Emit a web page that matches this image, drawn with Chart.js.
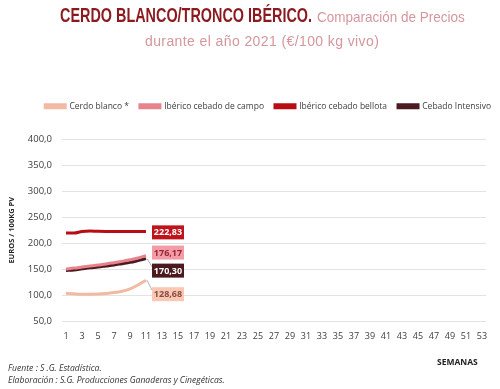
<!DOCTYPE html>
<html>
<head>
<meta charset="utf-8">
<script src="https://cdn.jsdelivr.net/npm/chart.js@4.4.1/dist/chart.umd.min.js"></script>
<style>
  html, body { margin: 0; padding: 0; background: #fff; }
  #wrap { position: relative; width: 500px; height: 389px; overflow: hidden; }
  #myChart { position: absolute; left: 0; top: 0; }
  .tt { position: absolute; white-space: nowrap; font-family: "Liberation Sans", "DejaVu Sans", sans-serif;
    transform-origin: left center; }
  .ta { left: 60px; top: 5px; font-size: 20px; line-height: 20px; font-weight: bold; color: #8b1a1f; transform: scaleX(0.72); }
  .tb { left: 317px; top: 9px; font-size: 15px; line-height: 15px; color: #d4979d; transform: scaleX(0.9); }
  .tc { left: 145px; top: 34px; font-size: 14px; line-height: 14px; color: #d4979d; letter-spacing: 0.4px; }
  .note { position: absolute; font-family: "Open Sans", sans-serif; }
  .foot { left: 8px; font-size: 8.6px; font-style: italic; color: #333; }
</style>
</head>
<body>
<div id="wrap">
  <canvas id="myChart" width="500" height="389"></canvas>
  <div class="tt ta">CERDO BLANCO/TRONCO IBÉRICO.</div>
  <div class="tt tb">Comparación de Precios</div>
  <div class="tt tc">durante el año 2021 (€/100 kg vivo)</div>
  <div class="note" style="left:437px; top:356px; font-size:8.5px; font-weight:bold; color:#222;">SEMANAS</div>
  <div class="note foot" style="top:362px;">Fuente :  S .G. Estadística.</div>
  <div class="note foot" style="top:374px;">Elaboración : S.G. Producciones Ganaderas y Cinegéticas.</div>
</div>
<script>
const weeks = ['1','2','3','4','5','6','7','8','9','10','11','12','13','14','15','16','17','18','19','20',
  '21','22','23','24','25','26','27','28','29','30','31','32','33','34','35','36','37','38','39','40',
  '41','42','43','44','45','46','47','48','49','50','51','52','53'];

const cerdoBlanco = [103.5, 102.5, 101.8, 101.8, 102.0, 103.0, 104.8, 107.5, 112.0, 119.5, 128.68];
const ibericoCampo = [150.5, 152.0, 154.0, 156.0, 158.0, 160.0, 162.5, 165.0, 168.0, 171.5, 176.17];
const ibericoBellota = [219.5, 219.5, 222.5, 223.5, 223.0, 222.8, 222.8, 222.8, 222.8, 222.8, 222.83];
const cebadoIntensivo = [147.5, 148.5, 150.5, 152.5, 154.0, 156.0, 158.0, 160.5, 163.0, 166.5, 170.30];

const fmt = v => v.toFixed(2).replace('.', ',');

// label box for the last point of each series: colours + vertical nudge
const lastLabels = [
  { bg: '#f8c8b5', fg: '#8a4a40', dy: 14 },
  { bg: '#f29ca7', fg: '#9b2335', dy: -3 },
  { bg: '#c0141c', fg: '#ffffff', dy: 1 },
  { bg: '#4a1a1e', fg: '#ffffff', dy: 12 }
];

const lastLabelPlugin = {
  id: 'lastLabel',
  afterDatasetsDraw(chart) {
    const ctx = chart.ctx;
    ctx.save();
    ctx.font = 'bold 9px "Open Sans", sans-serif';
    ctx.textAlign = 'center';
    ctx.textBaseline = 'middle';
    chart.data.datasets.forEach((ds, i) => {
      const meta = chart.getDatasetMeta(i);
      const pt = meta.data[meta.data.length - 1];
      const st = lastLabels[i];
      const cx = pt.x + 22, cy = pt.y + st.dy;
      if (Math.abs(st.dy) > 6) {
        ctx.strokeStyle = '#b0b0b0';
        ctx.lineWidth = 1;
        ctx.beginPath();
        ctx.moveTo(pt.x + 1, pt.y);
        ctx.lineTo(cx - 16, cy - 4);
        ctx.stroke();
      }
      ctx.fillStyle = st.bg;
      ctx.fillRect(cx - 16, cy - 7, 32, 14);
      ctx.fillStyle = st.fg;
      ctx.fillText(fmt(ds.data[ds.data.length - 1]), cx, cy + 0.5);
    });
    ctx.restore();
  }
};

// nudge the legend up/right so it sits where the original one does
const legendShift = {
  id: 'legendShift',
  afterLayout(chart) {
    const lg = chart.legend;
    lg.left += 16; lg.right += 16;
    lg.top -= 19; lg.bottom -= 19;
  }
};

const ctx = document.getElementById('myChart').getContext('2d');

const myLineChart = new Chart(ctx, {
  type: 'line',
  data: {
    labels: weeks,
    datasets: [
      { label: 'Cerdo blanco *', data: cerdoBlanco, borderColor: '#f2b9a3', backgroundColor: '#f2b9a3' },
      { label: 'Ibérico cebado de campo', data: ibericoCampo, borderColor: '#e8838e', backgroundColor: '#e8838e' },
      { label: 'Ibérico cebado bellota', data: ibericoBellota, borderColor: '#b80d12', backgroundColor: '#b80d12' },
      { label: 'Cebado Intensivo', data: cebadoIntensivo, borderColor: '#4d1a20', backgroundColor: '#4d1a20' }
    ]
  },
  options: {
    responsive: false,
    animation: false,
    elements: {
      line: { borderWidth: 3, tension: 0.4, cubicInterpolationMode: 'monotone' },
      point: { radius: 0 }
    },
    layout: { padding: { top: 110, left: 4, right: 14, bottom: 46 } },
    plugins: {
      tooltip: { enabled: false },
      legend: {
        position: 'top',
        align: 'end',
        labels: {
          boxWidth: 20,
          boxHeight: 3,
          padding: 11,
          color: '#404040',
          font: { family: '"Open Sans", sans-serif', size: 8.5 }
        }
      }
    },
    scales: {
      x: {
        offset: true,
        grid: { display: false },
        border: { display: false },
        afterFit: scale => { scale.height = 22; },
        ticks: {
          autoSkip: false,
          maxRotation: 0,
          padding: 2,
          color: '#404040',
          font: { family: '"Open Sans", sans-serif', size: 9 },
          callback: (v, i) => (i % 2 === 0 ? weeks[i] : '')
        }
      },
      y: {
        min: 50,
        max: 400,
        afterFit: scale => { scale.width = 58; },
        grid: { color: '#e3e3e3', drawTicks: false },
        border: { display: false },
        title: {
          display: true,
          text: 'EUROS / 100KG PV',
          color: '#222',
          padding: { top: 3, bottom: 0 },
          font: { family: '"Open Sans", sans-serif', size: 7.5, weight: 'bold' }
        },
        ticks: {
          stepSize: 50,
          padding: 10,
          color: '#404040',
          font: { family: '"Open Sans", sans-serif', size: 9.5 },
          callback: v => v.toFixed(1).replace('.', ',')
        }
      }
    }
  },
  plugins: [lastLabelPlugin, legendShift]
});
</script>
</body>
</html>
